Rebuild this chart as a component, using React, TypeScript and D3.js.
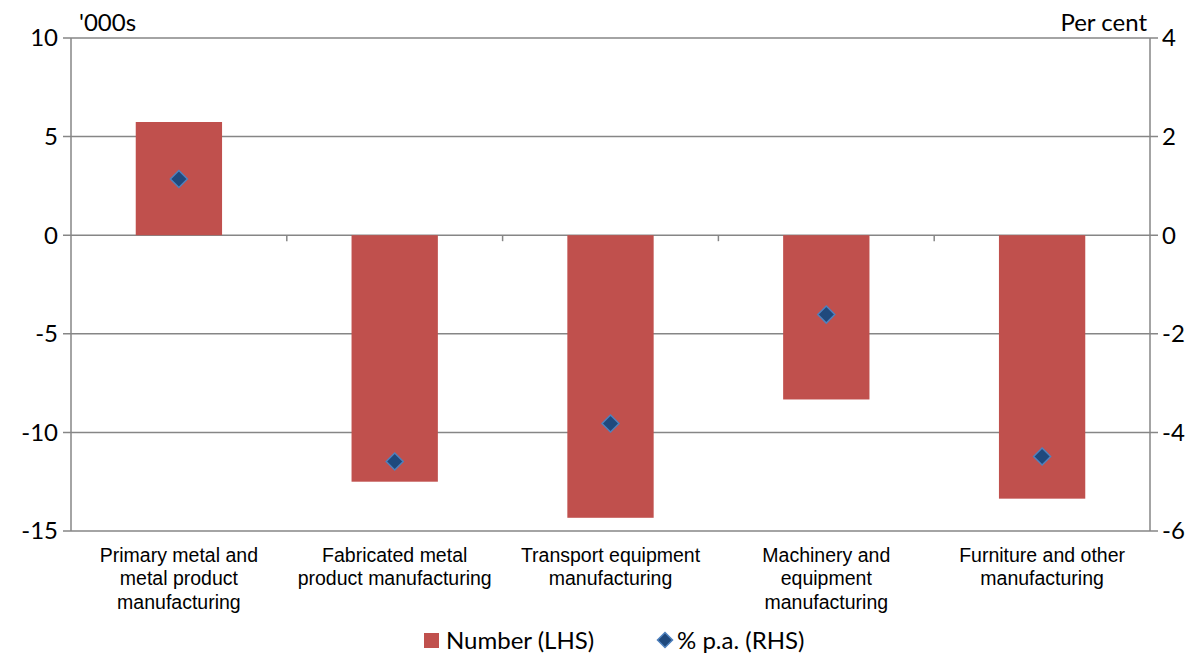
import React from "react";
import * as d3 from "d3";

const categories = [
  ["Primary metal and", "metal product", "manufacturing"],
  ["Fabricated metal", "product manufacturing"],
  ["Transport equipment", "manufacturing"],
  ["Machinery and", "equipment", "manufacturing"],
  ["Furniture and other", "manufacturing"],
];
const numberLHS = [5.74, -12.5, -14.33, -8.33, -13.36];
const pctRHS = [1.14, -4.59, -3.82, -1.61, -4.49];
const leftTicks = [10, 5, 0, -5, -10, -15];
const rightTicks = [4, 2, 0, -2, -4, -6];

export default function App() {
  const W = 1204, H = 658;
  const x0 = 71, x1 = 1150, yTop = 38, yBot = 531;
  const band = d3.scaleBand<number>().domain(d3.range(categories.length)).range([x0, x1]).paddingInner(0.6).paddingOuter(0.3);
  const bandFull = d3.scaleBand<number>().domain(d3.range(categories.length)).range([x0, x1]);
  const yL = d3.scaleLinear().domain([-15, 10]).range([yBot, yTop]);
  const yR = d3.scaleLinear().domain([-6, 4]).range([yBot, yTop]);
  const grid = "#868686";
  const tickFont = "Lato, 'Open Sans', sans-serif";
  const catFont = "'Liberation Sans', Arial, sans-serif";
  const fs = 24;
  const diamond = (cx: number, cy: number, r: number) => `M${cx},${cy - r}L${cx + r},${cy}L${cx},${cy + r}L${cx - r},${cy}Z`;
  return (
    <svg width={W} height={H} style={{ position: "absolute", left: 0, top: 0, background: "#fff" }}>
      {leftTicks.map((t) => (
        <line key={"g" + t} x1={x0 - 8} x2={x1 + 8} y1={yL(t)} y2={yL(t)} stroke={grid} strokeWidth={1.5} />
      ))}
      <line x1={x0} x2={x0} y1={yTop} y2={yBot} stroke={grid} strokeWidth={1.5} />
      <line x1={x1} x2={x1} y1={yTop} y2={yBot} stroke={grid} strokeWidth={1.5} />
      {d3.range(1, categories.length).map((i) => (
        <line key={"ct" + i} x1={bandFull(i)!} x2={bandFull(i)!} y1={yL(0)} y2={yL(0) + 6} stroke={grid} strokeWidth={1.5} />
      ))}
      {numberLHS.map((v, i) => (
        <rect key={"b" + i} x={band(i)!} width={band.bandwidth()} y={yL(Math.max(0, v))} height={Math.abs(yL(v) - yL(0))} fill="#C0504D" />
      ))}
      {pctRHS.map((v, i) => (
        <path key={"m" + i} d={diamond(band(i)! + band.bandwidth() / 2, yR(v), 8.5)} fill="#1F497D" stroke="#4F81BD" strokeWidth={1.5} />
      ))}
      {leftTicks.map((t) => (
        <text key={"lt" + t} x={x0 - 13} y={yL(t)} dy="0.35em" textAnchor="end" fontFamily={tickFont} fontSize={fs} fill="#000">{t}</text>
      ))}
      {rightTicks.map((t) => (
        <text key={"rt" + t} x={x1 + 12} y={yR(t)} dy="0.35em" textAnchor="start" fontFamily={tickFont} fontSize={fs} fill="#000">{t}</text>
      ))}
      <text x={79} y={31} fontFamily={tickFont} fontSize={fs} fill="#000">'000s</text>
      <text x={1147} y={31} textAnchor="end" fontFamily={tickFont} fontSize={fs} fill="#000">Per cent</text>
      {categories.map((lines, i) => (
        <text key={"c" + i} x={bandFull(i)! + bandFull.bandwidth() / 2} y={562} textAnchor="middle" fontFamily={catFont} fontSize={19.5} fill="#000">
          {lines.map((l, j) => (
            <tspan key={j} x={bandFull(i)! + bandFull.bandwidth() / 2} dy={j === 0 ? 0 : 23.3}>{l}</tspan>
          ))}
        </text>
      ))}
      <rect x={424} y={633} width={15} height={15} fill="#C0504D" />
      <text x={446} y={649} fontFamily={tickFont} fontSize={fs} fill="#000">Number (LHS)</text>
      <path d={diamond(665, 640, 7.5)} fill="#1F497D" stroke="#4F81BD" strokeWidth={1.5} />
      <text x={677} y={649} fontFamily={tickFont} fontSize={fs} fill="#000">% p.a. (RHS)</text>
    </svg>
  );
}
